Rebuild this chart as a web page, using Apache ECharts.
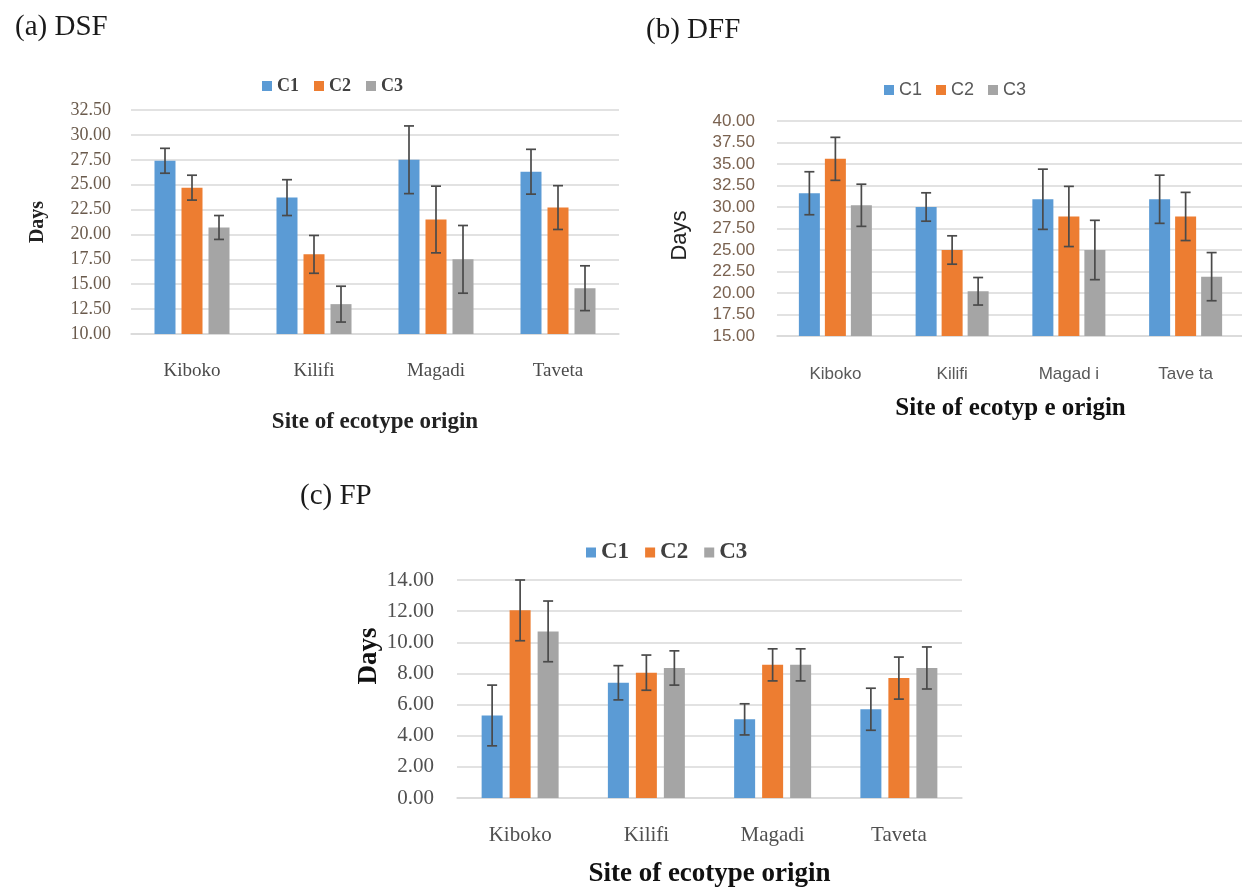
<!DOCTYPE html>
<html>
<head>
<meta charset="utf-8">
<script src="https://cdn.jsdelivr.net/npm/echarts@6/dist/echarts.min.js"></script>
<style>
html,body{margin:0;padding:0;background:#fff;}
#chart{width:1242px;height:888px;}
</style>
</head>
<body>
<div id="chart"></div>
<script>
// ---------- data ----------
const sites = ['Kiboko', 'Kilifi', 'Magadi', 'Taveta'];
const sitesB = ['Kiboko', 'Kilifi', 'Magad i', 'Tave ta'];
const seriesNames = ['C1', 'C2', 'C3'];

// (a) DSF
const dsfC1 = [27.4, 23.7, 27.5, 26.3];
const dsfC2 = [24.7, 18.0, 21.5, 22.7];
const dsfC3 = [20.7, 13.0, 17.5, 14.6];
const dsfErrC1 = [1.25, 1.8, 3.4, 2.25];
const dsfErrC2 = [1.25, 1.9, 3.35, 2.2];
const dsfErrC3 = [1.2, 1.8, 3.4, 2.25];

// (b) DFF
const dffC1 = [31.6, 30.0, 30.9, 30.9];
const dffC2 = [35.6, 25.0, 28.9, 28.9];
const dffC3 = [30.2, 20.2, 25.0, 21.9];
const dffErrC1 = [2.5, 1.65, 3.5, 2.8];
const dffErrC2 = [2.5, 1.65, 3.5, 2.8];
const dffErrC3 = [2.45, 1.6, 3.45, 2.8];

// (c) FP
const fpC1 = [5.3, 7.4, 5.05, 5.7];
const fpC2 = [12.05, 8.05, 8.55, 7.7];
const fpC3 = [10.7, 8.35, 8.55, 8.35];
const fpErrC1 = [1.95, 1.1, 1.0, 1.35];
const fpErrC2 = [1.95, 1.13, 1.03, 1.35];
const fpErrC3 = [1.95, 1.1, 1.03, 1.35];

// ---------- styling ----------
const colors = ['#5B9BD5', '#ED7D31', '#A5A5A5'];
const gridColor = '#d9d9d9';
const errColor = '#4a4a4a';
const SERIF = '"Liberation Serif","DejaVu Serif",serif';
const SANS = '"Liberation Sans","DejaVu Sans",sans-serif';

const panels = [
  {
    vals: [dsfC1, dsfC2, dsfC3], errs: [dsfErrC1, dsfErrC2, dsfErrC3], cats: sites,
    grid: {left: 131, top: 110, width: 488, height: 224},
    y: {min: 10, max: 32.5, interval: 2.5},
    barWidth: 21, gap: 6,
    yLabel: {fontFamily: SERIF, fontSize: 18, color: '#6a5a4c', margin: 20},
    xLabel: {fontFamily: SERIF, fontSize: 19, color: '#4a4a4a', margin: 28},
    xName: 'Site of ecotype origin', xNameStyle: {fontFamily: SERIF, fontWeight: 'bold', fontSize: 23, color: '#222'}, xNameGap: 77,
    yName: 'Days', yNameStyle: {fontFamily: SERIF, fontWeight: 'bold', fontSize: 20, color: '#222', padding: [0, 0, 0, 0]}, yNameGap: 83,
    legend: {left: 257, top: 72, textStyle: {fontFamily: SERIF, fontWeight: 'bold', fontSize: 18, color: '#404040'}, itemGap: 15},
    title: {text: '(a) DSF', left: 10, top: 8}
  },
  {
    vals: [dffC1, dffC2, dffC3], errs: [dffErrC1, dffErrC2, dffErrC3], cats: sitesB,
    grid: {left: 777, top: 121, width: 467, height: 215},
    y: {min: 15, max: 40, interval: 2.5},
    barWidth: 21, gap: 5,
    yLabel: {fontFamily: SANS, fontSize: 17, color: '#7a6250', margin: 22},
    xLabel: {fontFamily: SANS, fontSize: 17, color: '#595959', margin: 30},
    xName: 'Site of ecotyp e origin', xNameStyle: {fontFamily: SERIF, fontWeight: 'bold', fontSize: 25, color: '#111'}, xNameGap: 60,
    yName: 'Days', yNameStyle: {fontFamily: SANS, fontSize: 22, color: '#222', padding: [0, 14, 0, 0]}, yNameGap: 86,
    legend: {left: 879, top: 76, textStyle: {fontFamily: SANS, fontSize: 18, color: '#595959'}, itemGap: 14},
    title: {text: '(b) DFF', left: 641, top: 11}
  },
  {
    vals: [fpC1, fpC2, fpC3], errs: [fpErrC1, fpErrC2, fpErrC3], cats: sites,
    grid: {left: 457, top: 580, width: 505, height: 218},
    y: {min: 0, max: 14, interval: 2},
    barWidth: 21, gap: 7,
    yLabel: {fontFamily: SERIF, fontSize: 21, color: '#505050', margin: 23},
    xLabel: {fontFamily: SERIF, fontSize: 21, color: '#505050', margin: 27},
    xName: 'Site of ecotype origin', xNameStyle: {fontFamily: SERIF, fontWeight: 'bold', fontSize: 27, color: '#111'}, xNameGap: 63,
    yName: 'Days', yNameStyle: {fontFamily: SERIF, fontWeight: 'bold', fontSize: 27, color: '#111', padding: [0, 0, 0, 66]}, yNameGap: 72,
    legend: {left: 581, top: 536, textStyle: {fontFamily: SERIF, fontWeight: 'bold', fontSize: 23, color: '#404040'}, itemGap: 16},
    title: {text: '(c) FP', left: 295, top: 477}
  }
];

const option = {
  backgroundColor: '#fff',
  animation: false,
  title: [], legend: [], grid: [], xAxis: [], yAxis: [], series: []
};

function errRenderer(offset, cap) {
  return function (params, api) {
    const x = api.value(0), v = api.value(1), e = api.value(2);
    const top = api.coord([x, v + e]);
    const bot = api.coord([x, v - e]);
    const cx = top[0] + offset;
    const style = {stroke: errColor, lineWidth: 1.7};
    return {
      type: 'group',
      children: [
        {type: 'line', shape: {x1: cx, y1: top[1], x2: cx, y2: bot[1]}, style: style},
        {type: 'line', shape: {x1: cx - cap, y1: top[1], x2: cx + cap, y2: top[1]}, style: style},
        {type: 'line', shape: {x1: cx - cap, y1: bot[1], x2: cx + cap, y2: bot[1]}, style: style}
      ]
    };
  };
}

panels.forEach((p, i) => {
  option.title.push({
    text: p.title.text, left: p.title.left, top: p.title.top,
    textStyle: {fontFamily: SERIF, fontWeight: 'normal', fontSize: 29, color: '#1a1a1a'}
  });
  option.legend.push({
    data: seriesNames, left: p.legend.left, top: p.legend.top,
    icon: 'rect', itemWidth: 10, itemHeight: 10, itemGap: p.legend.itemGap,
    textStyle: p.legend.textStyle, selectedMode: false
  });
  option.grid.push(Object.assign({containLabel: false, outerBoundsMode: 'none'}, p.grid));
  option.xAxis.push({
    type: 'category', gridIndex: i, data: p.cats,
    axisLine: {show: true, lineStyle: {color: gridColor, width: 1.5}},
    axisTick: {show: false},
    axisLabel: p.xLabel,
    name: p.xName, nameLocation: 'middle', nameGap: p.xNameGap, nameTextStyle: p.xNameStyle
  });
  option.yAxis.push({
    type: 'value', gridIndex: i, min: p.y.min, max: p.y.max, interval: p.y.interval,
    axisLine: {show: false}, axisTick: {show: false},
    splitLine: {show: true, lineStyle: {color: gridColor, width: 1.5}},
    axisLabel: Object.assign({formatter: v => v.toFixed(2)}, p.yLabel),
    name: p.yName, nameLocation: 'middle', nameGap: p.yNameGap, nameRotate: 90, nameTextStyle: p.yNameStyle
  });
  const step = p.barWidth + p.gap;
  seriesNames.forEach((n, k) => {
    option.series.push({
      name: n, type: 'bar', xAxisIndex: i, yAxisIndex: i,
      data: p.vals[k], barWidth: p.barWidth, barGap: (p.gap / p.barWidth * 100).toFixed(1) + '%',
      itemStyle: {color: colors[k]}, z: 2
    });
  });
  seriesNames.forEach((n, k) => {
    option.series.push({
      name: n, type: 'custom', xAxisIndex: i, yAxisIndex: i, z: 5,
      renderItem: errRenderer((k - 1) * step, 5),
      data: p.vals[k].map((v, j) => [j, v, p.errs[k][j]]),
      encode: {x: 0, y: 1}, silent: true
    });
  });
});

const chart = echarts.init(document.getElementById('chart'), null, {renderer: 'canvas'});
chart.setOption(option);
</script>
</body>
</html>
